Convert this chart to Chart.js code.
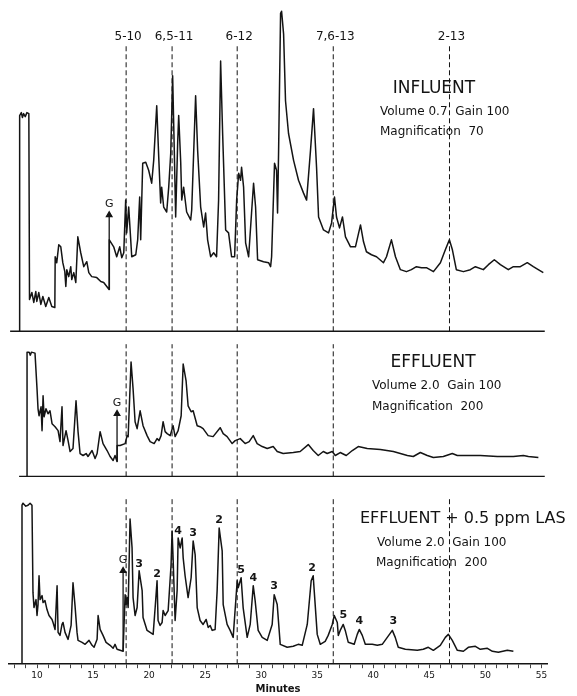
<!DOCTYPE html>
<html><head><meta charset="utf-8">
<script src="https://cdn.jsdelivr.net/npm/chart.js@4/dist/chart.umd.min.js"></script>
<style>html,body{margin:0;padding:0;background:#fff;}</style>
</head><body>
<canvas id="c" width="577" height="696"></canvas>
<script>
// ---------- data (minutes, detector signal in chart units above each baseline) ----------
const refMinutes = [17.95, 22.05, 27.86, 36.43, 46.8];
const refLabels = ['5-10', '6,5-11', '6-12', '7,6-13', '2-13'];
const labelledMinutes = [10, 15, 20, 25, 30, 35, 40, 45, 50, 55];

const influentMinutes = [8.45,8.45,8.6,8.7,8.8,8.95,9.1,9.27,9.33,9.54,9.71,9.89,9.98,10.16,10.34,10.52,10.78,11.05,11.32,11.59,11.62,11.76,11.94,12.12,12.30,12.48,12.57,12.66,12.83,13.01,13.10,13.28,13.46,13.64,13.90,14.17,14.44,14.62,14.88,15.33,15.69,15.95,16.43,16.45,16.84,17.11,17.38,17.56,17.74,17.91,18.00,18.18,18.36,18.45,18.81,18.98,19.16,19.25,19.43,19.70,19.96,20.23,20.41,20.68,20.86,21.03,21.12,21.30,21.57,21.75,21.93,22.01,22.10,22.25,22.37,22.55,22.64,22.82,22.91,23.08,23.35,23.71,23.80,24.15,24.33,24.60,24.87,25.04,25.22,25.49,25.76,26.02,26.20,26.38,26.56,26.83,27.09,27.36,27.63,27.81,27.99,28.16,28.25,28.43,28.61,28.88,29.14,29.32,29.50,29.68,30.21,30.66,30.84,30.93,31.19,31.37,31.46,31.55,31.73,31.82,32.00,32.17,32.44,32.89,33.33,33.78,34.05,34.40,34.67,34.94,35.12,35.56,36.01,36.28,36.54,36.72,36.99,37.25,37.52,37.97,38.41,38.86,39.13,39.39,39.84,40.29,40.91,41.18,41.62,41.98,42.42,42.96,43.40,43.85,44.30,44.74,45.37,45.99,46.43,46.79,47.06,47.41,48.04,48.66,49.11,49.82,50.27,50.80,51.34,52.05,52.50,53.12,53.74,54.28,54.72,55.17];
const influentSignal = [0,217,220,215,219,216,220,219,32,39,29,40,30,39,27,35,25,34,25,24,75,69,87,85,69,60,45,62,55,65,52,59,49,95,79,65,70,59,55,54,50,49,42,92,85,75,85,74,79,132,99,125,92,75,77,92,135,92,169,170,162,149,172,227,175,129,145,125,120,145,179,215,257,180,115,190,217,170,132,145,120,112,122,237,182,125,105,119,92,75,79,75,132,272,199,102,99,75,75,132,159,152,165,145,89,75,119,149,125,72,70,69,65,75,169,162,119,179,320,322,299,232,199,172,152,139,132,182,224,165,115,102,99,109,135,115,104,115,95,85,85,107,90,80,77,75,69,75,92,75,62,60,62,65,64,64,60,69,82,92,82,62,60,62,65,62,67,72,67,62,65,65,69,65,62,59];

const effluentMinutes = [9.11,9.11,9.3,9.4,9.5,9.82,10.00,10.09,10.18,10.36,10.45,10.54,10.63,10.80,10.98,11.16,11.34,11.61,11.88,12.05,12.23,12.32,12.59,12.77,12.95,13.21,13.48,13.66,13.84,14.11,14.38,14.55,14.91,15.18,15.36,15.63,15.89,16.25,16.52,16.79,16.96,17.14,17.15,17.41,17.86,18.04,18.13,18.39,18.57,18.75,18.93,19.20,19.46,19.82,20.09,20.45,20.71,20.89,21.07,21.25,21.43,21.61,21.88,22.14,22.32,22.59,22.86,23.04,23.30,23.48,23.75,23.93,24.29,24.55,24.82,25.27,25.71,26.34,26.61,26.96,27.41,27.68,28.13,28.57,28.93,29.29,29.64,30.09,30.54,31.07,31.43,31.96,32.86,33.48,34.20,34.64,35.09,35.54,35.89,36.34,36.61,37.05,37.59,38.13,38.66,39.46,40.63,41.79,43.04,43.57,44.20,44.82,45.36,46.25,47.05,47.50,48.39,49.55,51.07,52.50,53.39,53.84,54.73];
const effluentSignal = [0,125,125,122,125,124,88,68,61,70,46,81,60,68,63,66,53,50,46,35,70,31,46,36,25,28,76,45,23,21,23,20,26,18,23,45,33,26,20,16,21,15,31,31,33,41,40,115,88,55,48,66,51,41,35,33,38,36,41,55,45,43,41,51,40,46,61,113,96,71,65,66,51,50,48,41,40,49,43,40,33,36,38,33,35,41,33,30,28,30,25,23,24,25,32,26,21,25,23,25,21,24,21,26,30,28,27,25,21,20,24,21,19,20,23,21,21,21,20,20,21,20,19];

const spikedMinutes = [8.66,8.66,8.75,9.0,9.20,9.38,9.55,9.64,9.73,9.91,10.00,10.09,10.18,10.27,10.45,10.54,10.71,10.89,11.07,11.34,11.43,11.61,11.79,11.88,12.05,12.23,12.32,12.50,12.77,13.04,13.21,13.39,13.57,13.66,14.02,14.29,14.64,14.91,15.09,15.36,15.45,15.63,15.89,16.16,16.52,16.79,16.96,17.14,17.41,17.68,17.86,17.95,18.04,18.13,18.30,18.48,18.57,18.75,18.93,19.11,19.38,19.46,19.82,20.09,20.36,20.54,20.71,20.80,20.98,21.16,21.25,21.43,21.70,21.96,22.05,22.14,22.32,22.50,22.59,22.77,22.95,23.04,23.21,23.48,23.75,23.93,24.11,24.29,24.55,24.82,25.09,25.27,25.45,25.63,25.89,26.07,26.25,26.52,26.61,26.96,27.23,27.50,27.86,27.95,28.21,28.39,28.75,29.02,29.29,29.46,29.73,30.09,30.54,30.98,31.16,31.43,31.70,32.32,32.86,33.30,33.66,34.11,34.46,34.64,34.73,35.00,35.27,35.71,35.98,36.34,36.52,36.79,36.88,37.05,37.32,37.50,37.77,38.30,38.57,38.75,39.02,39.29,39.91,40.36,40.80,41.25,41.70,41.96,42.23,42.86,43.93,44.46,44.91,45.36,45.98,46.43,46.70,47.05,47.50,48.04,48.48,49.11,49.55,50.18,50.63,51.16,51.96,52.50];
const spikedSignal = [0,160,162,159,160,162,160,72,57,65,49,60,89,65,69,62,64,55,49,45,42,35,79,32,29,40,42,32,25,39,82,59,32,24,22,20,24,19,17,25,49,35,29,22,19,16,20,15,14,13,70,60,67,57,146,117,67,49,57,94,74,47,34,32,30,57,84,44,39,42,54,49,54,100,134,107,44,74,127,117,127,107,89,67,87,124,110,57,44,40,45,37,39,34,35,74,137,114,60,40,34,27,84,77,87,57,27,40,79,64,34,27,24,40,70,60,20,17,18,20,19,40,84,89,74,30,20,23,29,40,49,42,29,34,40,34,22,20,30,35,29,20,20,19,20,27,34,27,17,15,14,15,17,14,19,27,30,24,14,13,17,18,15,16,13,12,14,13];

// gain-change arrows (minute, signal at base, signal at tip) for influent / effluent / spiked
const gainMinutes = [16.44, 17.14, 17.68];
const gainBase = [42, 15, 13];
const gainTip = [117, 63, 94];

// homologue numbers written over the spiked-effluent peaks
const peakMinutes = [19.11, 20.71, 22.59, 23.93, 26.25, 28.21, 29.29, 31.16, 34.55, 37.32, 38.75, 41.79];
const peakHeights = [101, 91, 134, 132, 145, 95, 87, 79, 97, 49, 43, 43];
const peakTexts = ['3', '2', '4', '3', '2', '5', '4', '3', '2', '5', '4', '3'];

// ---------- chart ----------
const INK = '#141414';
const X_MIN = 7.5, X_MAX = 55.5;
const toXY = (xs, ys) => xs.map((m, i) => ({x: m, y: ys[i]}));
const trace = (xs, ys, axis) => ({data: toXY(xs, ys), yAxisID: axis, borderColor: INK, borderWidth: 1.5,
  pointRadius: 0, tension: 0, borderJoinStyle: 'round', fill: false});

const datasets = [
  trace(influentMinutes, influentSignal, 'yTop'),
  trace(effluentMinutes, effluentSignal, 'yMid'),
  trace(spikedMinutes, spikedSignal, 'yBot'),
  {data: [{x: 7.6, y: 0}, {x: 55.3, y: 0}], yAxisID: 'yTop', borderColor: INK, borderWidth: 1.3, pointRadius: 0},
  {data: [{x: 8.4, y: 0}, {x: 55.3, y: 0}], yAxisID: 'yMid', borderColor: INK, borderWidth: 1.3, pointRadius: 0},
];
const panelAxes = ['yTop', 'yMid', 'yBot'];
const dashTop = {yTop: 287, yMid: 133, yBot: 167};
const dashCount = {yTop: 5, yMid: 4, yBot: 5};
panelAxes.forEach(ax => {
  refMinutes.slice(0, dashCount[ax]).forEach(m => {
    datasets.push({data: [{x: m, y: 0}, {x: m, y: dashTop[ax]}], yAxisID: ax, borderColor: INK,
      borderWidth: 1, borderDash: [5, 3], pointRadius: 0});
  });
});
panelAxes.forEach((ax, i) => {
  datasets.push({data: [{x: gainMinutes[i], y: gainBase[i]}, {x: gainMinutes[i], y: gainTip[i]}], yAxisID: ax,
    borderColor: INK, borderWidth: 1.3, pointStyle: 'triangle', pointRadius: [0, 3.2],
    pointBackgroundColor: INK, pointBorderColor: INK});
});

const FONT = '"DejaVu Sans", "Liberation Sans", sans-serif';
const annotate = {
  id: 'annotate',
  afterDatasetsDraw(chart) {
    const {ctx, scales} = chart;
    const x = scales.x;
    ctx.save();
    ctx.fillStyle = INK;
    ctx.textBaseline = 'middle';
    ctx.textAlign = 'center';
    ctx.font = '12px ' + FONT;
    refMinutes.forEach((m, i) => ctx.fillText(refLabels[i], x.getPixelForValue(m) + 2, 37));
    ctx.font = '11px ' + FONT;
    panelAxes.forEach((ax, i) => ctx.fillText('G', x.getPixelForValue(gainMinutes[i]), scales[ax].getPixelForValue(gainTip[i] + 11)));
    ctx.font = 'bold 11px ' + FONT;
    peakMinutes.forEach((m, i) => ctx.fillText(peakTexts[i], x.getPixelForValue(m), scales.yBot.getPixelForValue(peakHeights[i])));
    const cap = (t, px, py, size, align) => { ctx.font = size + 'px ' + FONT; ctx.textAlign = align; ctx.fillText(t, px, py); };
    cap('INFLUENT', 434, 89, 17, 'center');
    cap('Volume 0.7  Gain 100', 380, 112, 12, 'left');
    cap('Magnification  70', 380, 132, 12, 'left');
    cap('EFFLUENT', 433, 363, 17, 'center');
    cap('Volume 2.0  Gain 100', 372, 386, 12, 'left');
    cap('Magnification  200', 372, 407, 12, 'left');
    cap('EFFLUENT + 0.5 ppm LAS', 360, 519, 16, 'left');
    cap('Volume 2.0  Gain 100', 377, 543, 12, 'left');
    cap('Magnification  200', 376, 563, 12, 'left');
    ctx.restore();
  }
};

new Chart(document.getElementById('c'), {
  type: 'line',
  data: {datasets},
  plugins: [annotate],
  options: {
    responsive: false, animation: false, devicePixelRatio: 1,
    layout: {padding: {left: 9, right: 30, top: 4, bottom: 0}},
    plugins: {legend: {display: false}, tooltip: {enabled: false}},
    scales: {
      x: {type: 'linear', position: 'bottom', min: X_MIN, max: X_MAX,
        afterBuildTicks: scale => {
          const t = [];
          for (let v = Math.ceil(X_MIN); v <= Math.floor(X_MAX); v++) t.push({value: v});
          scale.ticks = t;
        },
        ticks: {autoSkip: false, maxRotation: 0, padding: 2, color: INK,
          font: {family: FONT, size: 9}, callback: v => (labelledMinutes.includes(v) ? String(v) : '')},
        grid: {drawOnChartArea: false, drawTicks: true, tickLength: 4, color: '#444'},
        border: {display: true, color: INK, width: 1.5},
        title: {display: true, text: 'Minutes', color: INK, font: {family: FONT, size: 10, weight: 'bold'}, padding: {top: 0, bottom: 1}}
      },
      yTop: {type: 'linear', position: 'left', stack: 'panels', stackWeight: 336, weight: 3, min: -8, max: 328, display: false},
      yMid: {type: 'linear', position: 'left', stack: 'panels', stackWeight: 146, weight: 2, min: -8, max: 138, display: false},
      yBot: {type: 'linear', position: 'left', stack: 'panels', stackWeight: 181, weight: 1, min: 0, max: 181, display: false}
    }
  }
});
</script>
</body></html>
